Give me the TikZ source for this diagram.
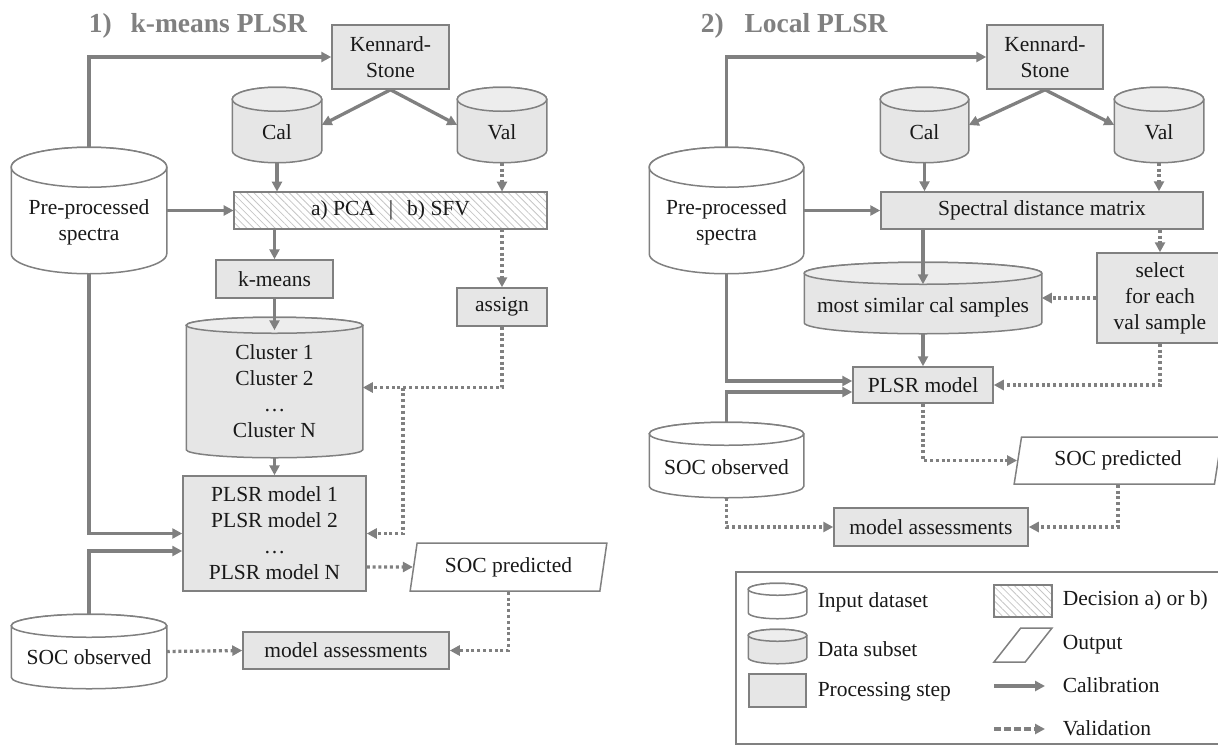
\documentclass[tikz,border=0pt]{standalone}
\usepackage{fontspec}
\setmainfont{Liberation Serif}
\usetikzlibrary{shapes.geometric,arrows.meta,calc,patterns.meta}
\definecolor{lgray}{HTML}{808080}
\definecolor{bfill}{HTML}{E6E6E6}
\tikzset{every node/.style={font=\fontsize{21.5}{26}\selectfont,text=black!90,align=center,line width=1.5pt},
    box/.style={draw=lgray,fill=bfill,rectangle,inner sep=0pt},
    outbox/.style={draw=lgray,fill=white,trapezium,trapezium left angle=76,trapezium right angle=104,
        trapezium stretches=true,inner sep=0pt},
    decbox/.style={draw=lgray,fill=white,pattern={Lines[angle=-45,distance=5pt,line width=0.8pt]},
        pattern color=lgray!45,inner sep=0pt},
    dbnode/.style={rectangle,inner sep=0pt},
    cal/.style={draw=lgray,line width=3.3pt,-{Triangle[length=10pt,width=10pt]}},
    val/.style={draw=lgray,line width=3.3pt,dash pattern=on 3pt off 2.8pt,-{Triangle[length=10pt,width=10pt]}},
    lgval/.style={draw=lgray,line width=3.3pt,dash pattern=on 7pt off 3pt,-{Triangle[length=10pt,width=10pt]}},
    ttl/.style={font=\fontsize{27.5}{33}\selectfont\bfseries,text=lgray,anchor=base west,inner sep=0pt},
    lgtext/.style={anchor=west,inner sep=0pt},
    }
% cylinder round a named node: name, y radius, body fill, top fill
\newcommand\drum[4]{%
  \path[draw=lgray,fill=#3,line width=1.5pt] let \p1=(#1.north west),\p2=(#1.south east),\n1={(\x2-\x1)/2} in
    (\x1,\y1-#2pt) -- (\x1,\y2+#2pt) arc[start angle=180,end angle=360,x radius=\n1,y radius=#2pt]
    -- (\x2,\y1-#2pt) arc[start angle=0,end angle=180,x radius=\n1,y radius=#2pt] -- cycle;
  \path[draw=lgray,fill=#4,line width=1.5pt] let \p1=(#1.north west),\p2=(#1.south east),\n1={(\x2-\x1)/2} in
    (\x1+\n1,\y1-#2pt) ellipse[x radius=\n1,y radius=#2pt];
}

\begin{document}
\begin{tikzpicture}[x=1pt,y=-1pt]
	\useasboundingbox (0,0) rectangle (1218,745);
	\clip (0,0) rectangle (1218,745);
	% 1) k-means PLSR
	\node[ttl] (ttlA) at (88,32) {1)\hspace{19pt}k-means PLSR};
	\node[box,minimum width=117pt,minimum height=64pt] (ks1) at (390.5,57) {Kennard-\\Stone};
	\node[dbnode,minimum width=88pt,minimum height=74pt] (cal1) at (277,125) {};
	\drum{cal1}{12}{bfill}{bfill!70!white}
	\node (cal1t) at ([yshift=-7pt]cal1.center) {Cal};
	\node[dbnode,minimum width=88pt,minimum height=74pt] (val1) at (502,125) {};
	\drum{val1}{12}{bfill}{bfill!70!white}
	\node (val1t) at ([yshift=-7pt]val1.center) {Val};
	\node[dbnode,minimum width=154pt,minimum height=125pt] (pre1) at (89,210.5) {};
	\drum{pre1}{20}{white}{white}
	\node (pre1t) at ([yshift=-11.5pt]pre1.center) {Pre-processed\\spectra};
	\node[decbox,minimum width=313pt,minimum height=37pt] (dec1) at (390.5,210.5) {a) PCA\hspace{14pt}|\hspace{14pt}b) SFV};
	\node[box,minimum width=117pt,minimum height=38pt] (km1) at (274.5,279) {k-means};
	\node[box,minimum width=90pt,minimum height=38pt] (asg1) at (502,307) {assign};
	\node[dbnode,minimum width=175pt,minimum height=139pt] (clu1) at (274.5,387.5) {};
	\drum{clu1}{8}{bfill}{bfill!70!white}
	\node (clu1t) at ([yshift=-3.5pt]clu1.center) {Cluster 1\\Cluster 2\\\ldots\\Cluster N};
	\node[box,minimum width=183pt,minimum height=115pt] (plsr1) at (274.5,533.5)
		{PLSR model 1\\PLSR model 2\\\ldots\\PLSR model N};
	\node[outbox,minimum width=197pt,minimum height=48pt] (socp1) at (508.5,567) {SOC predicted};
	\node[box,minimum width=206pt,minimum height=37pt] (mas1) at (346,650.5) {model assessments};
	\node[dbnode,minimum width=154pt,minimum height=73pt] (soco1) at (89,651.5) {};
	\drum{soco1}{11.5}{white}{white}
	\node (soco1t) at ([yshift=-5.5pt]soco1.center) {SOC observed};
	\coordinate (br1) at (403,387.5);

	\draw[cal] (pre1.north) |- (ks1);
	\draw[cal] (ks1.south) -- (cal1.east);
	\draw[cal] (ks1.south) -- (val1.west);
	\draw[cal] (cal1.south) -- (cal1.south |- dec1.north);
	\draw[val] (val1.south) -- (val1.south |- dec1.north);
	\draw[cal] (pre1.east) -- (dec1.west);
	\draw[cal] (km1 |- dec1.south) -- (km1.north);
	\draw[val] (asg1 |- dec1.south) -- (asg1.north);
	\draw[cal] (km1.south) -- ($(clu1.north)+(0,13)$);
	\draw[cal] (clu1.south) -- (plsr1.north);
	\draw[val] (asg1.south) |- (clu1.east);
	\draw[val] (br1) |- (plsr1.east);
	\draw[cal] (pre1.south) |- (plsr1.west);
	\draw[cal] (soco1.north) |- ($(plsr1.west)+(0,17.5)$);
	\draw[val] (plsr1.east |- socp1) -- (socp1);
	\draw[val] (socp1.south) |- (mas1.east);
	\draw[val] (soco1.east) -- (mas1.west);

	% 2) Local PLSR
	\node[ttl] (ttlB) at (700,32) {2)\hspace{21pt}Local PLSR};
	\node[box,minimum width=116pt,minimum height=64pt] (ks2) at (1045,57) {Kennard-\\Stone};
	\node[dbnode,minimum width=87pt,minimum height=74pt] (cal2) at (924.5,125) {};
	\drum{cal2}{12}{bfill}{bfill!70!white}
	\node (cal2t) at ([yshift=-7pt]cal2.center) {Cal};
	\node[dbnode,minimum width=88pt,minimum height=74pt] (val2) at (1159,125) {};
	\drum{val2}{12}{bfill}{bfill!70!white}
	\node (val2t) at ([yshift=-7pt]val2.center) {Val};
	\node[dbnode,minimum width=153pt,minimum height=125pt] (pre2) at (726.5,210.5) {};
	\drum{pre2}{20}{white}{white}
	\node (pre2t) at ([yshift=-11.5pt]pre2.center) {Pre-processed\\spectra};
	\node[box,minimum width=322pt,minimum height=37pt] (sdm2) at (1042,210.5) {Spectral distance matrix};
	\node[dbnode,minimum width=236pt,minimum height=70pt] (sim2) at (923,298) {};
	\drum{sim2}{11}{bfill}{bfill!70!white}
	\node (sim2t) at ([yshift=-9pt]sim2.center) {most similar cal samples};
	\node[box,minimum width=126pt,minimum height=90pt] (sel2) at (1160,298) {select\\for each\\val sample};
	\node[box,minimum width=140pt,minimum height=36pt] (plsr2) at (923,385) {PLSR model};
	\node[dbnode,minimum width=153pt,minimum height=74pt] (soco2) at (726.5,460) {};
	\drum{soco2}{11.5}{white}{white}
	\node (soco2t) at ([yshift=-7pt]soco2.center) {SOC observed};
	\node[outbox,minimum width=208pt,minimum height=47pt] (socp2) at (1118,460.5) {SOC predicted};
	\node[box,minimum width=194pt,minimum height=38pt] (mas2) at (931,527) {model assessments};

	\draw[cal] (pre2.north) |- (ks2);
	\draw[cal] (ks2.south) -- (cal2.east);
	\draw[cal] (ks2.south) -- (val2.west);
	\draw[cal] (cal2.south) -- (cal2.south |- sdm2.north);
	\draw[val] (val2.south) -- (val2.south |- sdm2.north);
	\draw[cal] (pre2.east) -- (sdm2.west);
	\draw[cal] (sim2 |- sdm2.south) -- ($(sim2.north)+(0,22)$);
	\draw[val] (sel2 |- sdm2.south) -- (sel2.north);
	\draw[val] (sel2.west) -- (sim2.east);
	\draw[val] (sel2.south) |- (plsr2.east);
	\draw[cal] (sim2.south) -- (plsr2.north);
	\draw[cal] (pre2.south) |- ($(plsr2.west)+(0,-4)$);
	\draw[cal] (soco2.north) |- ($(plsr2.west)+(0,7)$);
	\draw[val] (plsr2.south) |- (socp2);
	\draw[val] (socp2.south) |- (mas2.east);
	\draw[val] (soco2.south) |- (mas2.west);

	% legend
	\node[draw=lgray,line width=1.5pt,minimum width=490pt,minimum height=172pt,inner sep=0pt] (lgbox) at (981,658) {};
	\node[dbnode,minimum width=57pt,minimum height=34pt] (lgin) at (777.5,601) {};
	\drum{lgin}{6}{white}{white}
	\node[dbnode,minimum width=57pt,minimum height=33pt] (lgsub) at (777.5,646.5) {};
	\drum{lgsub}{6}{bfill}{bfill!70!white}
	\node[box,minimum width=57pt,minimum height=33pt] (lgproc) at (777.5,690.5) {};
	\node[decbox,minimum width=58pt,minimum height=32pt] (lgdec) at (1023,601) {};
	\node[outbox,inner sep=1pt,minimum width=58pt,minimum height=34pt,trapezium left angle=67,trapezium right angle=113] (lgout) at (1023,645) {\strut};
	\coordinate (lgc1) at (994,686);
	\coordinate (lgc2) at (1045,686);
	\coordinate (lgv1) at (994,729);
	\coordinate (lgv2) at (1045,729);
	\draw[cal] (lgc1) -- (lgc2);
	\draw[lgval] (lgv1) -- (lgv2);
	\node[lgtext] (lgtin) at (817,602) {Input dataset};
	\node[lgtext] (lgtsub) at (817,649) {Data subset};
	\node[lgtext] (lgtproc) at (817,692) {Processing step};
	\node[lgtext] (lgtdec) at (1062,600) {Decision a) or b)};
	\node[lgtext] (lgtout) at (1062,645) {Output};
	\node[lgtext] (lgtcal) at (1062,685) {Calibration};
	\node[lgtext] (lgtval) at (1062,728) {Validation};
\end{tikzpicture}
\end{document}
